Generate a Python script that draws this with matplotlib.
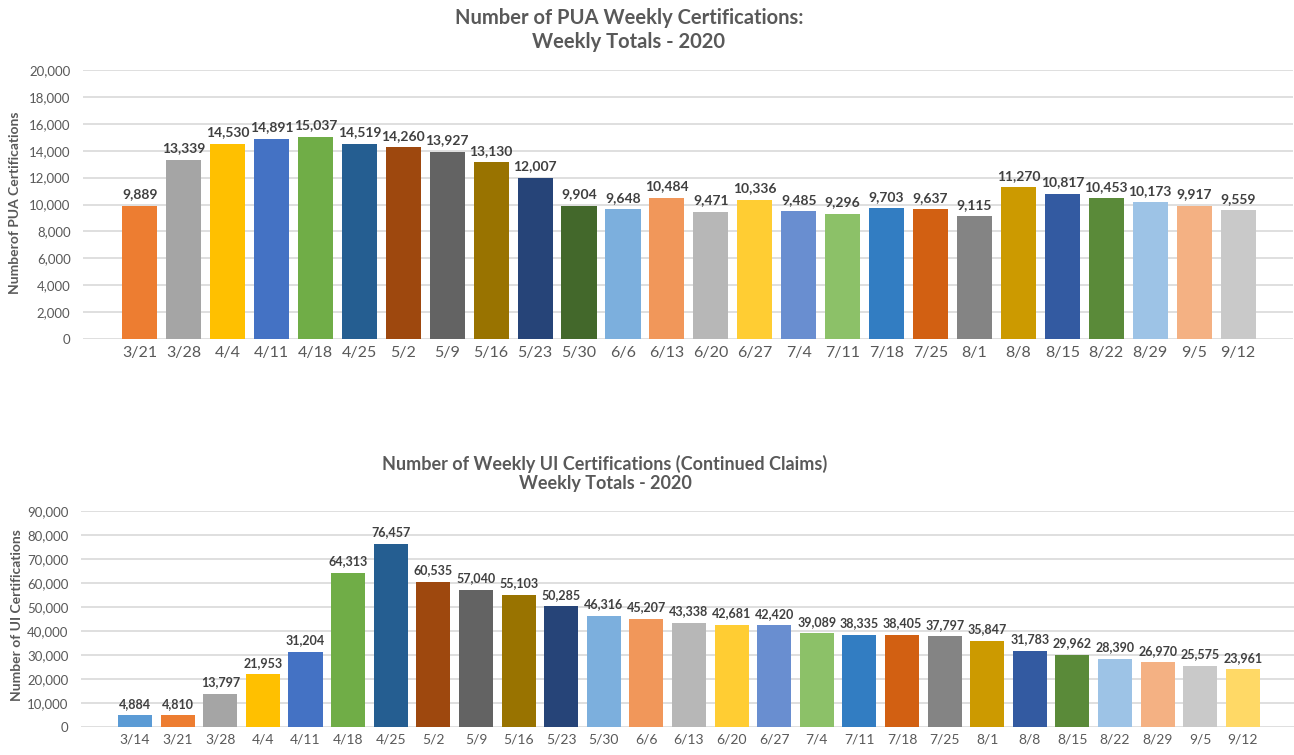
import matplotlib
matplotlib.use("Agg")
import matplotlib.pyplot as plt
from matplotlib.ticker import FuncFormatter

# PUA weekly certifications (top chart)
pua_weeks = ["3/21", "3/28", "4/4", "4/11", "4/18", "4/25", "5/2", "5/9", "5/16", "5/23",
             "5/30", "6/6", "6/13", "6/20", "6/27", "7/4", "7/11", "7/18", "7/25", "8/1",
             "8/8", "8/15", "8/22", "8/29", "9/5", "9/12"]
pua_values = [9889, 13339, 14530, 14891, 15037, 14519, 14260, 13927, 13130, 12007,
              9904, 9648, 10484, 9471, 10336, 9485, 9296, 9703, 9637, 9115,
              11270, 10817, 10453, 10173, 9917, 9559]

# UI continued claims (bottom chart)
ui_weeks = ["3/14", "3/21", "3/28", "4/4", "4/11", "4/18", "4/25", "5/2", "5/9", "5/16",
            "5/23", "5/30", "6/6", "6/13", "6/20", "6/27", "7/4", "7/11", "7/18", "7/25",
            "8/1", "8/8", "8/15", "8/22", "8/29", "9/5", "9/12"]
ui_values = [4884, 4810, 13797, 21953, 31204, 64313, 76457, 60535, 57040, 55103,
             50285, 46316, 45207, 43338, 42681, 42420, 39089, 38335, 38405, 37797,
             35847, 31783, 29962, 28390, 26970, 25575, 23961]

# excel style colours
pua_colors = ["#ED7D31", "#A5A5A5", "#FFC000", "#4472C4", "#70AD47", "#255E91", "#9E480E",
              "#636363", "#997300", "#264478", "#43682B", "#7CAFDD", "#F1975A", "#B7B7B7",
              "#FFCD33", "#698ED0", "#8CC168", "#327DC2", "#D26012", "#848484", "#CC9A00",
              "#335AA1", "#5A8A39", "#9DC3E6", "#F4B183", "#C9C9C9"]
ui_colors = ["#5B9BD5", "#ED7D31", "#A5A5A5", "#FFC000", "#4472C4", "#70AD47", "#255E91",
             "#9E480E", "#636363", "#997300", "#264478", "#7CAFDD", "#F1975A", "#B7B7B7",
             "#FFCD33", "#698ED0", "#8CC168", "#327DC2", "#D26012", "#848484", "#CC9A00",
             "#335AA1", "#5A8A39", "#9DC3E6", "#F4B183", "#C9C9C9", "#FFD966"]

plt.rcParams["font.family"] = ["Lato", "DejaVu Sans"]
txt = "#595959"

W, H = 1294, 755
fig = plt.figure(figsize=(W / 100, H / 100), dpi=100)


def px_axes(left, right, top, bottom):
    return fig.add_axes([left / W, (H - bottom) / H, (right - left) / W, (bottom - top) / H])


def style(ax, ymax, step, xlim, tick_size, val_size, bars):
    ax.set_ylim(0, ymax)
    ax.set_yticks(range(0, ymax + 1, step))
    ax.yaxis.set_major_formatter(FuncFormatter(lambda v, p: f"{int(v):,}"))
    ax.set_xlim(*xlim)
    ax.grid(axis="y", color="#D9D9D9", linewidth=1.2)
    ax.set_axisbelow(True)
    for s in ax.spines.values():
        s.set_visible(False)
    ax.tick_params(axis="both", length=0, colors=txt)
    ax.tick_params(axis="y", pad=9, labelsize=9.5)
    ax.tick_params(axis="x", pad=5, labelsize=tick_size)
    ax.bar_label(bars, labels=[f"{v:,}" for v in bars.datavalues], padding=4,
                 fontsize=val_size, fontweight="bold", color="#404040")


# top chart
ax1 = px_axes(83, 1293, 70, 339)
b1 = ax1.bar(range(len(pua_weeks)), pua_values, width=0.8, color=pua_colors)
ax1.set_xticks(range(len(pua_weeks)))
ax1.set_xticklabels(pua_weeks)
style(ax1, 20000, 2000, (-1.29, 26.25), 11.5, 10, b1)

# bottom chart
ax2 = px_axes(81, 1294, 511, 727)
b2 = ax2.bar(range(len(ui_weeks)), ui_values, width=0.8, color=ui_colors)
ax2.set_xticks(range(len(ui_weeks)))
ax2.set_xticklabels(ui_weeks)
style(ax2, 90000, 10000, (-1.27, 27.2), 10, 9, b2)

fig.text(629 / W, 1 - 30 / H, "Number of PUA Weekly Certifications:\nWeekly Totals - 2020",
         ha="center", va="center", fontsize=14.5, fontweight="bold", color=txt, linespacing=1.25)
fig.text(605 / W, 1 - 473 / H, "Number of Weekly UI Certifications (Continued Claims)\nWeekly Totals - 2020",
         ha="center", va="center", fontsize=13, fontweight="bold", color=txt, linespacing=1.15)

fig.text(15 / W, 1 - 203 / H, "Numberof PUA Certifications", rotation=90,
         ha="center", va="center", fontsize=10, fontweight="bold", color=txt)
fig.text(17 / W, 1 - 615 / H, "Number of UI Certifications", rotation=90,
         ha="center", va="center", fontsize=10, fontweight="bold", color=txt)

fig.savefig("out.png", dpi=100)
